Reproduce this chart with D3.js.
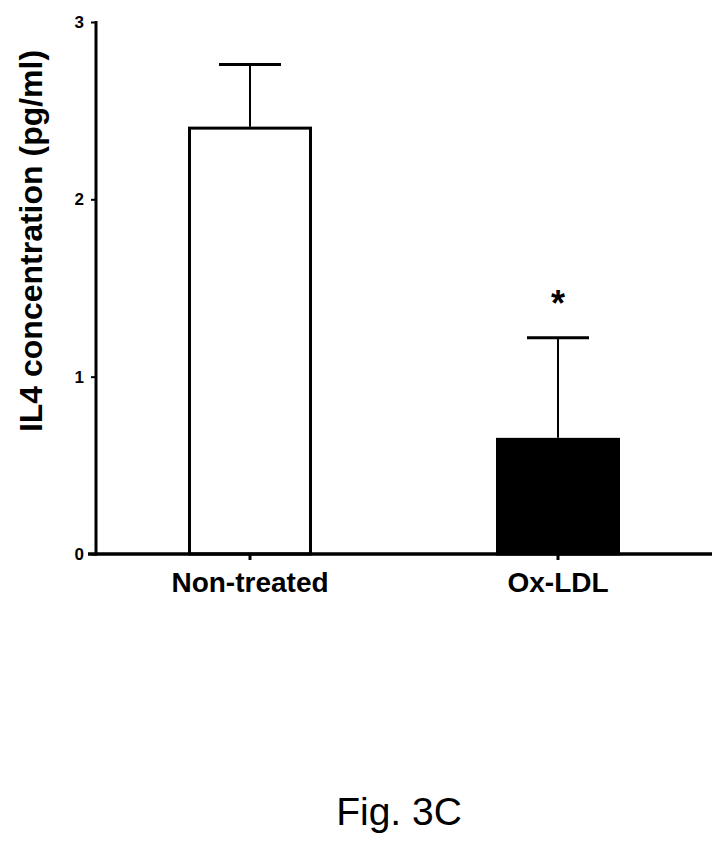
<!DOCTYPE html>
<html>
<head>
<meta charset="utf-8">
<script src="https://cdn.jsdelivr.net/npm/d3@7"></script>
<style>
html,body{margin:0;padding:0;background:#fff;}
svg{display:block;}
</style>
</head>
<body>
<svg id="chart" width="728" height="850"></svg>
<script>
const categories = ["Non-treated", "Ox-LDL"];
const means = [2.41, 0.655];
const errorTops = [2.76, 1.22];
const barFills = ["#ffffff", "#000000"];
const significance = ["", "*"];
const yTicks = [0, 1, 2, 3];
const yLabel = "IL4 concentration (pg/ml)";
const figLabel = "Fig. 3C";

const svg = d3.select("#chart");
const font = "Arial, 'Liberation Sans', Helvetica, sans-serif";

const x = d3.scaleBand().domain(categories).range([96, 712]).paddingInner(0.6).paddingOuter(0.3);
const y = d3.scaleLinear().domain([0, 3]).range([554, 22]);

// bars
const barW = 124;
categories.forEach((c, i) => {
  const cx = x(c) + x.bandwidth() / 2;
  svg.append("rect")
    .attr("x", cx - barW / 2 + 1.5)
    .attr("y", y(means[i]) + 1.5)
    .attr("width", barW - 3)
    .attr("height", y(0) - y(means[i]) - 1.5)
    .attr("fill", barFills[i])
    .attr("stroke", "#000")
    .attr("stroke-width", 3);
  // error bar
  svg.append("line")
    .attr("x1", cx).attr("x2", cx)
    .attr("y1", y(means[i])).attr("y2", y(errorTops[i]))
    .attr("stroke", "#000").attr("stroke-width", 2);
  svg.append("line")
    .attr("x1", cx - 31).attr("x2", cx + 31)
    .attr("y1", y(errorTops[i])).attr("y2", y(errorTops[i]))
    .attr("stroke", "#000").attr("stroke-width", 3);
  if (significance[i]) {
    svg.append("text")
      .attr("x", cx).attr("y", y(errorTops[i]) - 22)
      .attr("text-anchor", "middle")
      .attr("font-family", font).attr("font-weight", "bold")
      .attr("font-size", 36)
      .text(significance[i]);
  }
});

// y axis
const yAxis = d3.axisLeft(y).tickValues(yTicks).tickFormat(d3.format("d")).tickSize(5).tickPadding(7);
const gy = svg.append("g").attr("transform", "translate(96,0)").call(yAxis);
gy.select(".domain").remove();
gy.selectAll(".tick line").attr("stroke", "#000").attr("stroke-width", 2);
gy.selectAll(".tick text").attr("font-family", font).attr("font-weight", "bold")
  .attr("font-size", 17).attr("fill", "#000");
svg.append("line").attr("x1", 96).attr("x2", 96).attr("y1", y(3) - 1).attr("y2", y(0) + 1.5)
  .attr("stroke", "#000").attr("stroke-width", 3);

// x axis
const xAxis = d3.axisBottom(x).tickSize(6).tickPadding(12);
const gx = svg.append("g").attr("transform", "translate(0,554)").call(xAxis);
gx.select(".domain").remove();
gx.selectAll(".tick line").attr("stroke", "#000").attr("stroke-width", 3);
gx.selectAll(".tick text").attr("font-family", font).attr("font-weight", "bold")
  .attr("font-size", 28).attr("fill", "#000");
svg.append("line").attr("x1", 88).attr("x2", 712).attr("y1", 554).attr("y2", 554)
  .attr("stroke", "#000").attr("stroke-width", 3.5);

// y label
svg.append("text")
  .attr("transform", "translate(42,241) rotate(-90)")
  .attr("text-anchor", "middle")
  .attr("font-family", font).attr("font-weight", "bold")
  .attr("font-size", 32)
  .text(yLabel);

// figure label
svg.append("text")
  .attr("x", 399).attr("y", 825)
  .attr("text-anchor", "middle")
  .attr("font-family", font)
  .attr("font-size", 39)
  .text(figLabel);
</script>
</body>
</html>
